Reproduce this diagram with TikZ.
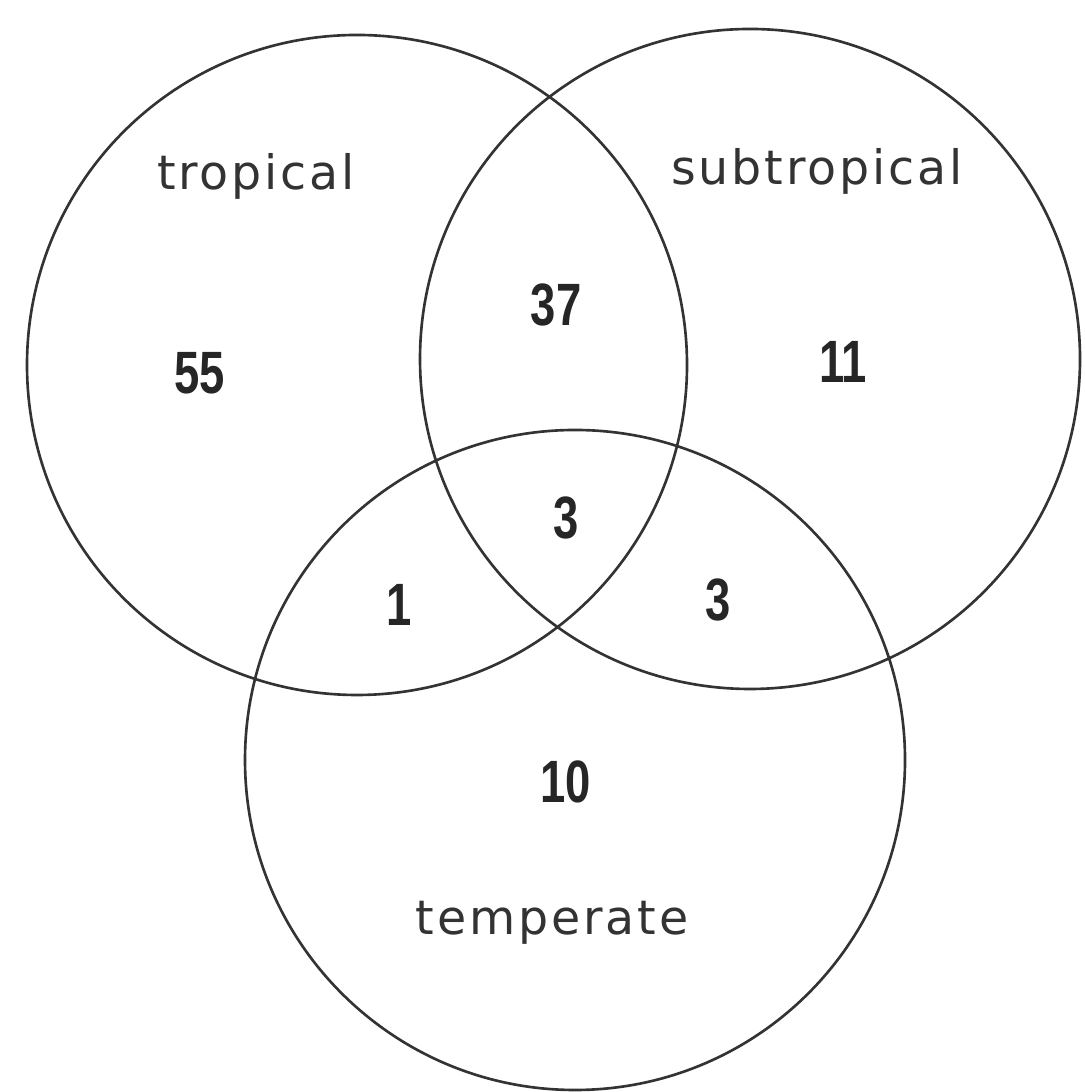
\documentclass[tikz,border=0pt]{standalone}
\usepackage{fontspec}
\usepackage{graphicx}
\setmainfont{Liberation Sans}
\newfontfamily\widesans[LetterSpace=6]{DejaVu Sans}
\newcommand{\vnum}[1]{\scalebox{0.76}[1]{\bfseries #1}}
\begin{document}
\begin{tikzpicture}[line join=round]

                \pgfmathsetmacro{\r}{3.3}

                \tikzset{
                  set_circle/.style = {circle, draw=black!80, line width=0.75pt,
                                       minimum size=2*\r cm, inner sep=0pt},
                  set_label/.style  = {anchor=base, text=black!80,
                                       font=\widesans\fontsize{13.5}{15}\selectfont},
                  count/.style      = {text=black!85, inner sep=0pt,
                                       font=\fontsize{17}{19}\selectfont}
                }

                \useasboundingbox (0,0) rectangle (10.84,10.92);

                % the three sets
                \node[set_circle] (trop)    at (3.57,7.27) {};
                \node[set_circle] (subtrop) at (7.50,7.33) {};
                \node[set_circle] (temp)    at (5.75,3.32) {};

                % names of the sets
                \node[set_label] (troplabel)    at (2.56,9.02) {tropical};
                \node[set_label] (subtroplabel) at (8.17,9.07) {subtropical};
                \node[set_label] (templabel)    at (5.52,1.57) {temperate};

                % counts in each region
                \foreach \name/\pos/\val in {
                    tonly/{(2.00,7.19)}/55,
                    tsub/{(5.56,7.87)}/37,
                    sonly/{(8.43,7.30)}/11,
                    all/{(5.66,5.74)}/3,
                    ttemp/{(3.99,4.87)}/1,
                    stemp/{(7.18,4.92)}/3,
                    eonly/{(5.72,3.10)}/10
                }{
                    \node[count] (\name) at \pos {\vnum{\val}};
                }
            \end{tikzpicture}
\end{document}
